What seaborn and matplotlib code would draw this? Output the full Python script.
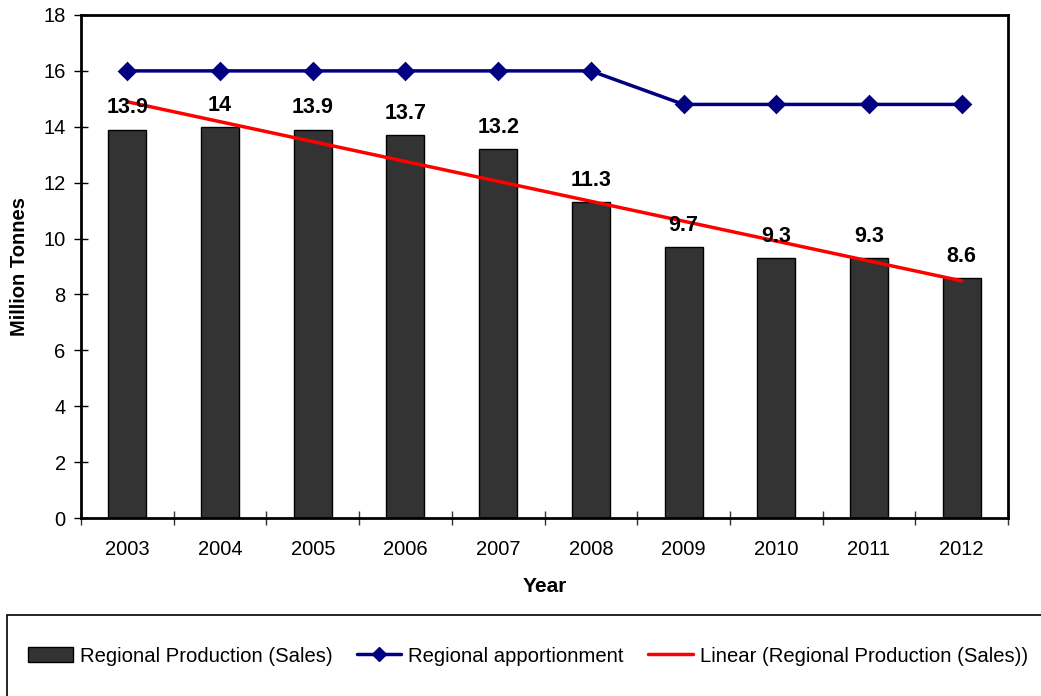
import numpy as np
import pandas as pd
import matplotlib
matplotlib.use("Agg")
import matplotlib.pyplot as plt
import seaborn as sns
from matplotlib.patches import Patch, Rectangle
from matplotlib.lines import Line2D
from matplotlib.ticker import FixedLocator

years = ["2003", "2004", "2005", "2006", "2007", "2008", "2009", "2010", "2011", "2012"]
production = [13.9, 14.0, 13.9, 13.7, 13.2, 11.3, 9.7, 9.3, 9.3, 8.6]
apportionment = [16, 16, 16, 16, 16, 16, 14.8, 14.8, 14.8, 14.8]
labels = ["13.9", "14", "13.9", "13.7", "13.2", "11.3", "9.7", "9.3", "9.3", "8.6"]

sns.set_style("white")
plt.rcParams["font.family"] = ["Liberation Sans", "DejaVu Sans"]
plt.rcParams.update({"text.color": "black", "axes.labelcolor": "black",
                     "xtick.color": "black", "ytick.color": "black"})

df = pd.DataFrame({"Year": years, "Production": production, "Apportionment": apportionment})
df["pos"] = np.arange(len(years))

fig = plt.figure(figsize=(10.41, 6.96), dpi=100)
ax = fig.add_axes([81/1041, 1 - 518/696, (1008-81)/1041, (518-15)/696])

sns.barplot(data=df, x="Year", y="Production", color="#333333", width=0.41,
            edgecolor="black", linewidth=1, saturation=1, ax=ax)
sns.pointplot(data=df, x="Year", y="Apportionment", color="#000080", markers="D",
              markersize=8, linewidth=2.5, ax=ax)
sns.regplot(data=df, x="pos", y="Production", scatter=False, ci=None, truncate=True,
            line_kws={"color": "#FF0000", "linewidth": 2.5}, ax=ax)

for i, (v, t) in enumerate(zip(production, labels)):
    ax.annotate(t, (i, v), xytext=(0, 8), textcoords="offset points",
                ha="center", va="bottom", fontsize=15.5, fontweight="bold", color="black")

ax.set_xlim(-0.5, 9.5)
ax.set_ylim(0, 18)
ax.set_yticks(np.arange(0, 19, 2))
ax.set_xticks(np.arange(len(years)))
ax.set_xticklabels(years)
ax.xaxis.set_minor_locator(FixedLocator(np.arange(-0.5, 10, 1.0)))
ax.tick_params(axis="x", which="major", length=0, labelsize=14.5, pad=16)
ax.tick_params(axis="x", which="minor", direction="inout", length=10, width=1, color="#333333", bottom=True)
ax.tick_params(axis="y", which="major", direction="inout", length=10, width=1, labelsize=14.5, left=True, pad=6)
for s in ax.spines.values():
    s.set_linewidth(2)
    s.set_color("black")
    s.set_visible(True)

ax.set_xlabel("Year", fontsize=15, fontweight="bold", labelpad=13)
ax.set_ylabel("Million Tonnes", fontsize=14.5, fontweight="bold", labelpad=10)

handles = [
    Patch(facecolor="#333333", edgecolor="black", linewidth=1),
    Line2D([0], [0], color="#000080", linewidth=2.5, marker="D", markersize=7),
    Line2D([0], [0], color="#FF0000", linewidth=2.5),
]
leg_labels = ["Regional Production (Sales)", "Regional apportionment", "Linear (Regional Production (Sales))"]
fig.legend(handles, leg_labels, loc="center", bbox_to_anchor=(528/1041, 1 - 656/696),
           ncol=3, frameon=False, fontsize=14.6, handlelength=2.2, handletextpad=0.34,
           columnspacing=1.2, borderpad=0, borderaxespad=0)
fig.add_artist(Rectangle((7/1041, -0.01), 1.0, (696-615)/696 + 0.01, transform=fig.transFigure,
                         fill=False, edgecolor="black", linewidth=1.2))

fig.savefig("out.png", dpi=100)
